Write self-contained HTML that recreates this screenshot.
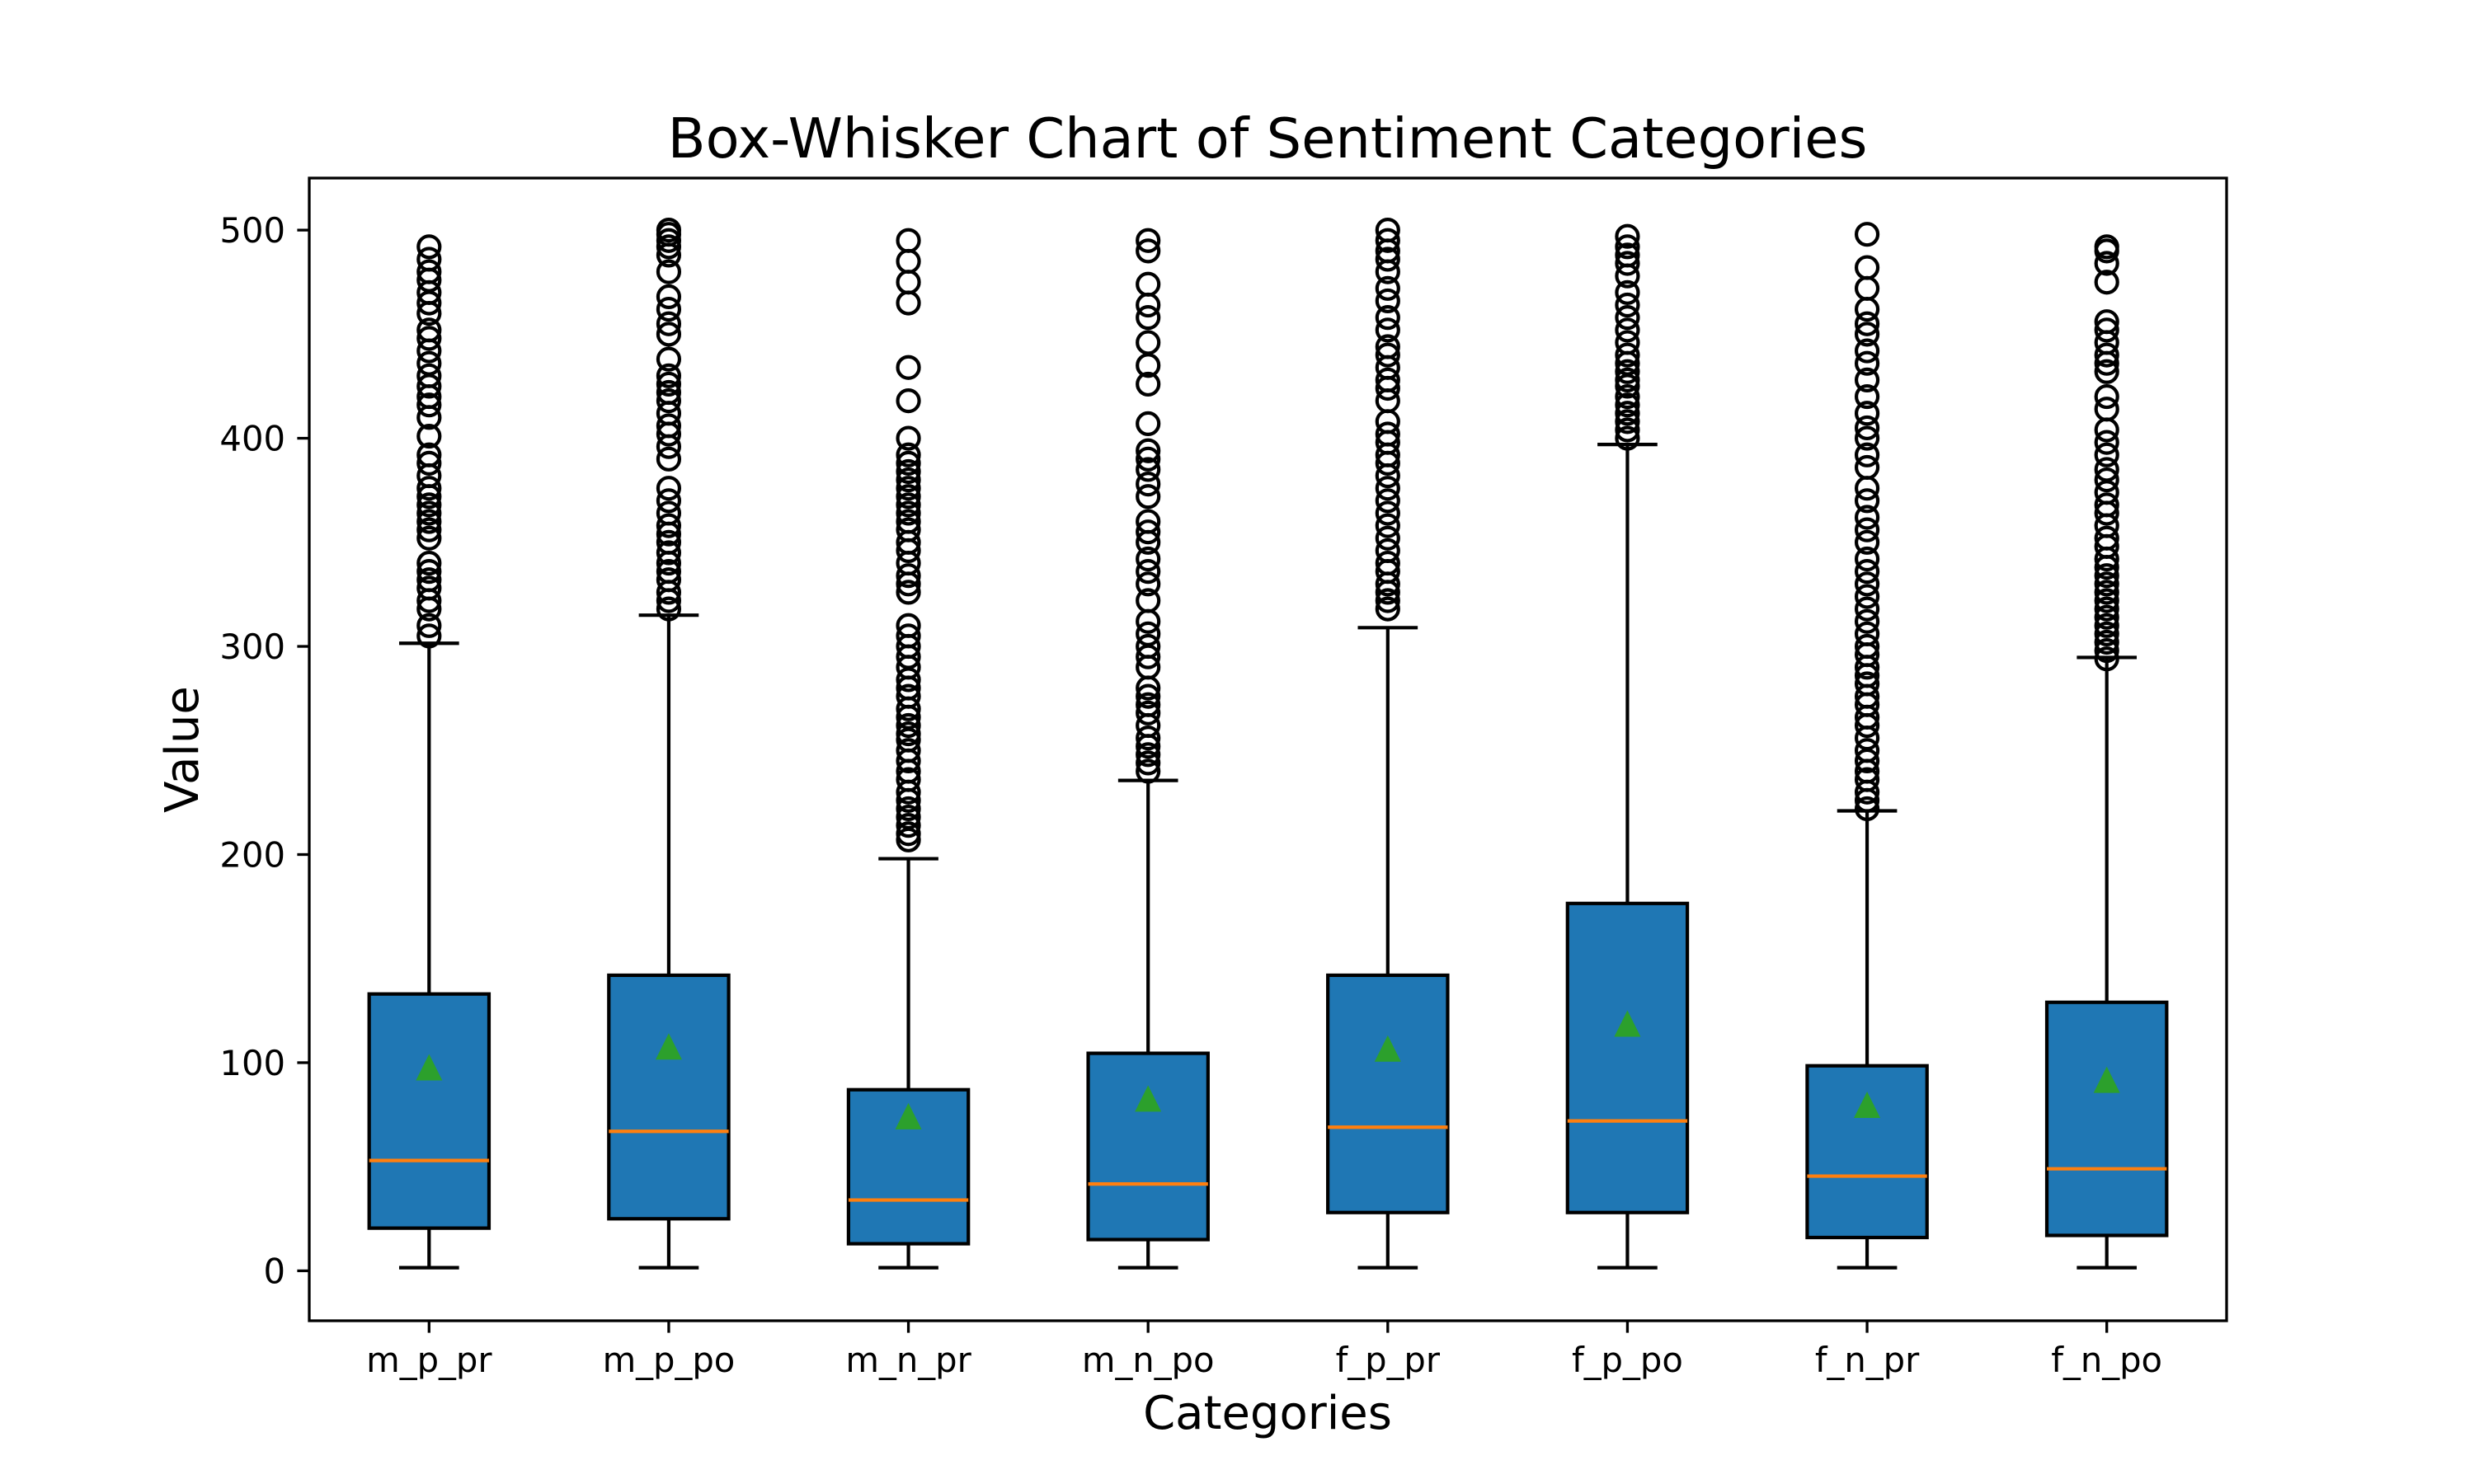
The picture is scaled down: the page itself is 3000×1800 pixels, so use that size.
<!DOCTYPE html>
<html><head><meta charset="utf-8"><style>
html,body{margin:0;padding:0;background:#fff}
svg{display:block}
text{font-family:"DejaVu Sans","Liberation Sans",sans-serif;fill:#000}
</style></head><body>
<svg id="chart" width="3000" height="1800" viewBox="0 0 3000 1800" xmlns="http://www.w3.org/2000/svg">
<rect width="3000" height="1800" fill="#fff"/>
<text x="1537" y="191" font-size="67" text-anchor="middle">Box-Whisker Chart of Sentiment Categories</text>
<text x="1537" y="1733" font-size="56" text-anchor="middle">Categories</text>
<text x="0" y="0" font-size="56" text-anchor="middle" transform="translate(240,909) rotate(-90)">Value</text>
<g id="plot"></g>
</svg>
<script>
const categories = ["m_p_pr","m_p_po","m_n_pr","m_n_po","f_p_pr","f_p_po","f_n_pr","f_n_po"];
const q1 = [20.5,25,13,15,28,28,16,17];
const medians = [53,67,34,41.7,69,72,45.5,49];
const q3 = [133,142,87,104.5,142,176.5,98.5,129];
const means = [97,107,73.5,82,106,118,79,91];
const whiskLow = [1.5,1.5,1.5,1.5,1.5,1.5,1.5,1.5];
const whiskHigh = [301.5,315,198,235.6,309,397,221,294.7];
const yTicks = [0,100,200,300,400,500];
const outliers = [
 [305,310,318,322,328,332,336,340,352,356,360,364,368,372,376,382,388,392,401,410,416,420,425,430,436,442,448,452,460,465,470,476,480,486,492],
 [318,322,326,332,336,340,345,350,354,358,364,370,376,390,396,402,406,412,418,422,426,430,438,450,455,462,468,480,488,492,495,498,500],
 [207,210,214,218,222,226,230,236,240,245,250,255,258,262,266,270,276,280,284,290,295,300,305,310,326,330,334,340,346,350,356,360,364,368,372,376,380,384,388,392,400,418,434,465,475,485,495],
 [240,244,248,252,256,262,268,272,276,280,290,295,300,306,312,322,330,336,342,350,355,360,372,378,385,390,394,407,426,435,446,458,464,474,490,495],
 [318,322,326,330,336,340,346,352,358,364,370,376,382,388,392,398,402,408,418,424,428,434,440,444,452,458,466,472,480,486,490,495,500],
 [400,404,408,412,416,420,425,428,432,436,440,446,452,458,464,470,478,484,488,492,497],
 [222,226,230,236,240,245,250,256,262,266,272,276,282,286,290,296,300,306,312,318,324,330,336,342,350,356,362,370,376,386,392,400,405,412,420,428,436,442,450,455,462,472,482,498],
 [294,298,302,306,310,314,318,322,326,330,334,338,342,348,352,358,364,368,374,380,385,392,398,404,414,420,432,436,440,446,452,456,475,484,490,492]
];
// axis functions
const AX = {l:375, r:2700, t:216, b:1602};
const xMin = 0.5, xMax = categories.length + 0.5;
const yMin = -24, yMax = 525;
function xs(v){ return AX.l + (v - xMin) / (xMax - xMin) * (AX.r - AX.l); }
function ys(v){ return AX.b - (v - yMin) / (yMax - yMin) * (AX.b - AX.t); }
const NS = "http://www.w3.org/2000/svg";
const plot = document.getElementById('plot');
function mk(tag, attrs, parent){
  const e = document.createElementNS(NS, tag);
  for (const k in attrs) e.setAttribute(k, attrs[k]);
  (parent || plot).appendChild(e);
  return e;
}
const LW = 4.2;
const boxHalf = (xs(1.25) - xs(1));
const capHalf = (xs(1.125) - xs(1));
categories.forEach((c, i) => {
  const cx = xs(i + 1);
  const g = mk('g', {});
  
  
  const w1 = mk('line', {x1:cx, x2:cx, y1:ys(q1[i]), y2:ys(whiskLow[i]), stroke:'#000', 'stroke-width':LW}, g);
  
  
  const w2 = mk('line', {x1:cx, x2:cx, y1:ys(q3[i]), y2:ys(whiskHigh[i]), stroke:'#000', 'stroke-width':LW}, g);
  
  
  const c1 = mk('line', {x1:cx-capHalf, x2:cx+capHalf, y1:ys(whiskLow[i]), y2:ys(whiskLow[i]), stroke:'#000', 'stroke-width':LW}, g);
  
  
  const c2 = mk('line', {x1:cx-capHalf, x2:cx+capHalf, y1:ys(whiskHigh[i]), y2:ys(whiskHigh[i]), stroke:'#000', 'stroke-width':LW}, g);
  
  
  const r = mk('rect', {x:cx-boxHalf, y:ys(q3[i]), width:2*boxHalf, height:ys(q1[i])-ys(q3[i]), fill:'#1f77b4', stroke:'#000', 'stroke-width':LW}, g);
  
  
  const m = mk('line', {x1:cx-boxHalf, x2:cx+boxHalf, y1:ys(medians[i]), y2:ys(medians[i]), stroke:'#ff7f0e', 'stroke-width':LW}, g);
  
  
  const my = ys(means[i]);
  const tri = mk('polygon', {points:`${cx},${my-18} ${cx-16},${my+14} ${cx+16},${my+14}`, fill:'#2ca02c'}, g);
  
  
  outliers[i].forEach(v => {
    const o = mk('circle', {cx:cx, cy:ys(v), r:13, fill:'none', stroke:'#000', 'stroke-width':4.2}, g);
    
    
  });
  const t = mk('line', {x1:cx, x2:cx, y1:AX.b, y2:AX.b+14.6, stroke:'#000', 'stroke-width':3.3});
  
  
  const lbl = mk('text', {x:cx, y:AX.b+62, 'font-size':41.7, 'text-anchor':'middle'});
  lbl.textContent = c;
  
  
});
yTicks.forEach(v => {
  const y = ys(v);
  const t = mk('line', {x1:AX.l-14.6, x2:AX.l, y1:y, y2:y, stroke:'#000', 'stroke-width':3.3});
  
  
  const lbl = mk('text', {x:AX.l-29, y:y+15, 'font-size':41.7, 'text-anchor':'end'});
  lbl.textContent = v;
  
  
});
const frame = mk('rect', {x:AX.l, y:AX.t, width:AX.r-AX.l, height:AX.b-AX.t, fill:'none', stroke:'#000', 'stroke-width':3.3});


</script>
</body></html>
